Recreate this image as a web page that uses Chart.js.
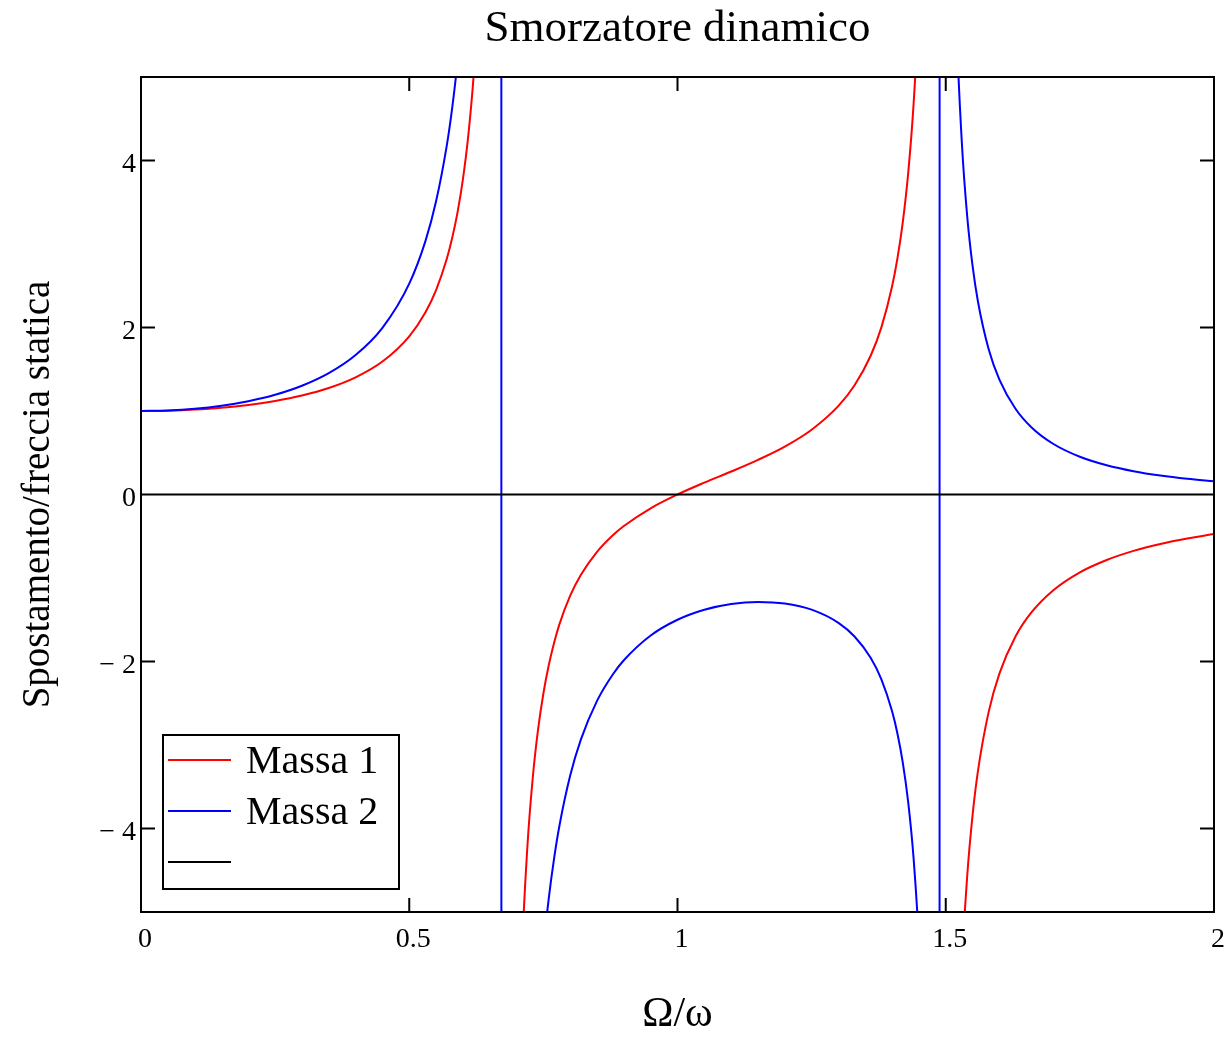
<!DOCTYPE html>
<html>
<head>
<meta charset="utf-8">
<script src="https://cdn.jsdelivr.net/npm/chart.js@4.4.1/dist/chart.umd.min.js"></script>
<style>
  body { margin: 0; background: #fff; }
</style>
</head>
<body>
<canvas id="myChart" width="1232" height="1037"></canvas>
<script>
// Omega/omega values
const omega = [0, 0.05, 0.1, 0.15, 0.2, 0.25, 0.3, 0.35, 0.4, 0.45,
  0.5, 0.53, 0.55, 0.57, 0.58, 0.59, 0.6, 0.61, 0.62, 0.63,
  0.65, 0.6712, 0.6722, 0.68, 0.69, 0.7, 0.71, 0.72, 0.73, 0.74,
  0.75, 0.76, 0.77, 0.78, 0.8, 0.82, 0.85, 0.88, 0.9, 0.95,
  1.0, 1.05, 1.1, 1.15, 1.2, 1.25, 1.3, 1.33, 1.36, 1.38,
  1.4, 1.41, 1.42, 1.43, 1.44, 1.45, 1.46, 1.47, 1.48, 1.488,
  1.489, 1.5, 1.51, 1.52, 1.53, 1.54, 1.55, 1.56, 1.58, 1.6,
  1.63, 1.66, 1.7, 1.75, 1.8, 1.85, 1.9, 1.95, 2.0];

const massa1 = [1, 1.004, 1.017, 1.039, 1.073, 1.120, 1.185, 1.275, 1.403, 1.592,
  1.895, 2.180, 2.449, 2.823, 3.071, 3.379, 3.774, 4.295, 5.017, 6.084,
  11.14, null, null, -27.92, -12.20, -7.661, -5.501, -4.237, -3.407, -2.820,
  -2.383, -2.044, -1.774, -1.552, -1.212, -0.961, -0.686, -0.485, -0.377, -0.165,
  0, 0.142, 0.275, 0.415, 0.574, 0.776, 1.061, 1.308, 1.662, 2.002,
  2.493, 2.831, 3.266, 3.849, 4.672, 5.922, 8.051, 12.34, 27.55, null,
  null, -20, -10.79, -7.408, -5.648, -4.569, -3.839, -3.312, -2.603, -2.146,
  -1.701, -1.410, -1.149, -0.932, -0.784, -0.675, -0.592, -0.527, -0.474];

const massa2 = [1, 1.007, 1.027, 1.063, 1.117, 1.194, 1.302, 1.453, 1.670, 1.996,
  2.526, 3.032, 3.511, 4.181, 4.628, 5.184, 5.896, 6.840, 8.150, 10.09,
  19.29, 60, -60, -51.9, -23.29, -15.02, -11.09, -8.798, -7.295, -6.234,
  -5.447, -4.839, -4.357, -3.964, -3.366, -2.933, -2.471, -2.149, -1.985, -1.689,
  -1.5, -1.380, -1.311, -1.286, -1.305, -1.379, -1.537, -1.701, -1.956, -2.214,
  -2.597, -2.865, -3.213, -3.684, -4.352, -5.372, -7.115, -10.76, -23.14, -60,
  60, 16, 8.432, 5.654, 4.212, 3.331, 2.737, 2.311, 1.739, 1.376,
  1.027, 0.803, 0.608, 0.452, 0.350, 0.279, 0.227, 0.188, 0.158];

// horizontal reference line
const zeroX = [0, 2];
const zeroY = [0, 0];

const seriesLabels = ["Massa 1", "Massa 2", ""];
const xTicks = [0, 0.5, 1, 1.5, 2];
const yTicks = [-4, -2, 0, 2, 4];
const xInner = [0.5, 1, 1.5];
const yInner = [-4, -2, 2, 4];

const serif = "'Liberation Serif', 'Times New Roman', serif";

const toPoints = (xs, ys) => xs.map((x, i) => ({ x: x, y: ys[i] }));

// frame, inward ticks and the boxed legend inside the plot
const mathcadFrame = {
	id: 'mathcadFrame',
	afterDraw(chart) {
		const { ctx, chartArea: a, scales } = chart;
		const x = scales.x, y = scales.y;
		ctx.save();
		ctx.strokeStyle = '#000';
		ctx.lineWidth = 2;
		ctx.strokeRect(a.left, a.top, a.right - a.left, a.bottom - a.top);
		ctx.beginPath();
		xInner.forEach(v => {
			const px = x.getPixelForValue(v);
			ctx.moveTo(px, a.bottom); ctx.lineTo(px, a.bottom - 14);
			ctx.moveTo(px, a.top); ctx.lineTo(px, a.top + 14);
		});
		yInner.forEach(v => {
			const py = y.getPixelForValue(v);
			ctx.moveTo(a.left, py); ctx.lineTo(a.left + 14, py);
			ctx.moveTo(a.right, py); ctx.lineTo(a.right - 14, py);
		});
		ctx.stroke();

		const lx = a.left + 22, ly = a.bottom - 177, lw = 236, lh = 154;
		ctx.fillStyle = '#fff';
		ctx.fillRect(lx, ly, lw, lh);
		ctx.strokeRect(lx, ly, lw, lh);
		ctx.font = '40px ' + serif;
		ctx.textBaseline = 'alphabetic';
		chart.data.datasets.forEach((ds, i) => {
			const ry = ly + 25 + i * 51;
			ctx.strokeStyle = ds.borderColor;
			ctx.lineWidth = 2;
			ctx.beginPath();
			ctx.moveTo(lx + 5, ry); ctx.lineTo(lx + 68, ry);
			ctx.stroke();
			ctx.fillStyle = '#000';
			ctx.fillText(seriesLabels[i], lx + 83, ry + 13);
		});
		ctx.restore();
	}
};

new Chart(document.getElementById('myChart').getContext('2d'), {
	type: 'line',
	data: {
		datasets: [{
			label: seriesLabels[0],
			data: toPoints(omega, massa1),
			borderColor: '#ff0000',
			borderWidth: 2,
			pointRadius: 0,
			cubicInterpolationMode: 'monotone',
			spanGaps: false,
			order: 3
		}, {
			label: seriesLabels[1],
			data: toPoints(omega, massa2),
			borderColor: '#0000ff',
			borderWidth: 2,
			pointRadius: 0,
			cubicInterpolationMode: 'monotone',
			order: 2
		}, {
			label: seriesLabels[2],
			data: toPoints(zeroX, zeroY),
			borderColor: '#000000',
			borderWidth: 2,
			pointRadius: 0,
			order: 1
		}]
	},
	options: {
		responsive: false,
		animation: false,
		layout: { padding: { right: 16 } },
		plugins: {
			legend: { display: false },
			tooltip: { enabled: false },
			title: {
				display: true,
				fullSize: false,
				text: 'Smorzatore dinamico',
				color: '#000',
				font: { family: serif, size: 45, weight: 'normal', lineHeight: 1 },
				padding: { top: 7, bottom: 25 }
			}
		},
		scales: {
			x: {
				type: 'linear',
				min: 0,
				max: 2,
				afterBuildTicks: s => { s.ticks = xTicks.map(v => ({ value: v })); },
				afterFit: s => { s.height = 125; },
				grid: { display: false, drawTicks: false },
				border: { display: false },
				ticks: {
					color: '#000',
					font: { family: serif, size: 28 },
					padding: 11,
					labelOffset: 4,
					maxRotation: 0,
					callback: v => String(v)
				},
				title: {
					display: true,
					text: 'Ω/ω',
					color: '#000',
					font: { family: serif, size: 42, lineHeight: 1 },
					padding: { top: 0, bottom: 1 }
				}
			},
			y: {
				min: -5,
				max: 5,
				afterBuildTicks: s => { s.ticks = yTicks.map(v => ({ value: v })); },
				afterFit: s => { s.width = 141; },
				grid: { display: false, drawTicks: false },
				border: { display: false },
				ticks: {
					color: '#000',
					font: { family: serif, size: 28 },
					padding: 5,
					labelOffset: 4,
					callback: v => v < 0 ? '\u2212 ' + (-v) : String(v)
				},
				title: {
					display: true,
					text: 'Spostamento/freccia statica',
					color: '#000',
					font: { family: serif, size: 39, lineHeight: 1 },
					padding: { top: 19, bottom: 0 }
				}
			}
		}
	},
	plugins: [mathcadFrame]
});
</script>
</body>
</html>
